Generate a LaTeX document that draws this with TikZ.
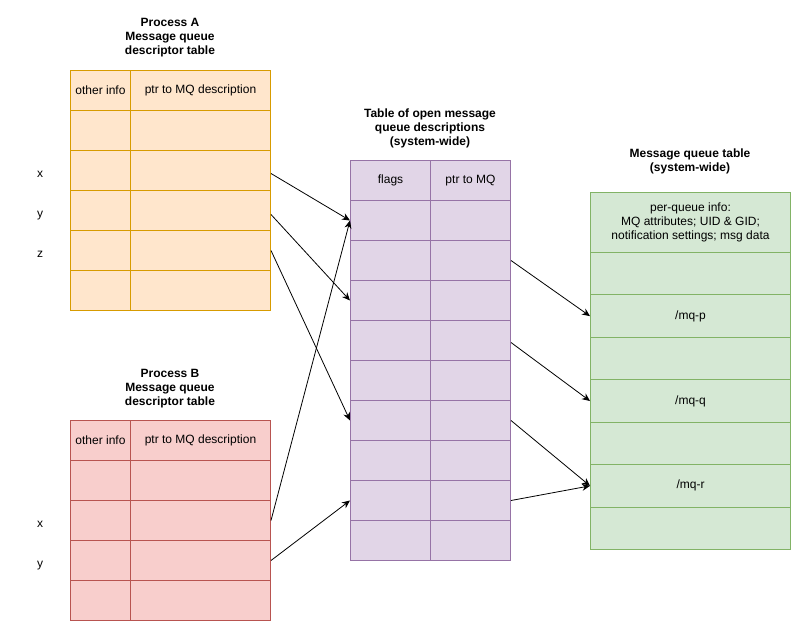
\documentclass[tikz,border=0pt]{standalone}
\usepackage{fontspec}
\setmainfont{Liberation Sans}
\usetikzlibrary{arrows.meta,positioning}

\definecolor{afill}{HTML}{FFE6CC}
\definecolor{aline}{HTML}{D79B00}
\definecolor{bfill}{HTML}{F8CECC}
\definecolor{bline}{HTML}{B85450}
\definecolor{ofill}{HTML}{E1D5E7}
\definecolor{oline}{HTML}{9673A6}
\definecolor{mfill}{HTML}{D5E8D4}
\definecolor{mline}{HTML}{82B366}

\begin{document}
\begin{tikzpicture}[x=1pt, y=-1pt, font=\fontsize{12}{14}\selectfont,
  cell/.style={draw, line width=1pt, anchor=north west, inner sep=0pt, minimum height=40pt},
  acell/.style={cell, fill=afill, draw=aline},
  bcell/.style={cell, fill=bfill, draw=bline},
  ocell/.style={cell, fill=ofill, draw=oline, minimum width=80pt},
  mcell/.style={cell, fill=mfill, draw=mline, minimum width=200pt, minimum height=42.43pt},
  title/.style={font=\fontsize{12}{14}\selectfont\bfseries, align=center},
  link/.style={-{Stealth[length=8pt, width=7pt]}, line width=0.8pt}]
  \useasboundingbox (0,0) rectangle (801,631);

  % process A
  \node[title] (a-title) at (170,38) {Process A\\Message queue\\descriptor table};
  \node[acell, minimum width=60pt] (a-1-1) at (70,70) {other info};
  \node[acell, minimum width=140pt] (a-1-2) at (130,70) {ptr to MQ description};
  \foreach \i in {2,...,6} {
    \node[acell, minimum width=60pt] (a-\i-1) at (70,{30+40*\i}) {};
    \node[acell, minimum width=140pt] (a-\i-2) at (130,{30+40*\i}) {};
  }
  \node (a-x) at (40,174) {x};
  \node (a-y) at (40,216) {y};
  \node (a-z) at (40,254) {z};

  % process B
  \node[title] (b-title) at (170,389) {Process B\\Message queue\\descriptor table};
  \node[bcell, minimum width=60pt] (b-1-1) at (70,420) {other info};
  \node[bcell, minimum width=140pt] (b-1-2) at (130,420) {ptr to MQ description};
  \foreach \i in {2,...,5} {
    \node[bcell, minimum width=60pt] (b-\i-1) at (70,{380+40*\i}) {};
    \node[bcell, minimum width=140pt] (b-\i-2) at (130,{380+40*\i}) {};
  }
  \node (b-x) at (40,524) {x};
  \node (b-y) at (40,566) {y};

  % open descriptions
  \node[title] (o-title) at (430,128) {Table of open message\\queue descriptions\\(system-wide)};
  \node[ocell] (o-1-1) at (350,160) {flags};
  \node[ocell] (o-1-2) at (430,160) {ptr to MQ};
  \foreach \i in {2,...,10} {
    \node[ocell] (o-\i-1) at (350,{120+40*\i}) {};
    \node[ocell] (o-\i-2) at (430,{120+40*\i}) {};
  }

  % message queues
  \node[title] (m-title) at (690,161) {Message queue table\\(system-wide)};
  \node[mcell, minimum height=60pt, align=center] (m-1) at (590,192)
    {per-queue info:\\MQ attributes; UID \& GID;\\notification settings; msg data};
  \foreach \i/\t in {2/{},3/{/mq-p},4/{},5/{/mq-q},6/{},7/{/mq-r},8/{}} {
    \node[mcell] (m-\i) at (590,{252+42.43*(\i-2)}) {\t};
  }

  \draw[link] ([yshift=-3pt]a-3-2.east) -- (o-2-1.west);
  \draw[link] ([yshift=-4pt]a-4-2.east) -- (o-4-1.west);
  \draw[link] (a-5-2.east) -- (o-7-1.west);
  \draw[link] (b-3-2.east) -- (o-2-1.west);
  \draw[link] (b-4-2.east) -- (o-9-1.west);
  \draw[link] (o-3-2.east) -- (m-3.west);
  \draw[link] ([yshift=-2pt]o-5-2.east) -- (m-5.west);
  \draw[link] (o-7-2.east) -- (m-7.west);
  \draw[link] (o-9-2.east) -- (m-7.west);
\end{tikzpicture}
\end{document}
